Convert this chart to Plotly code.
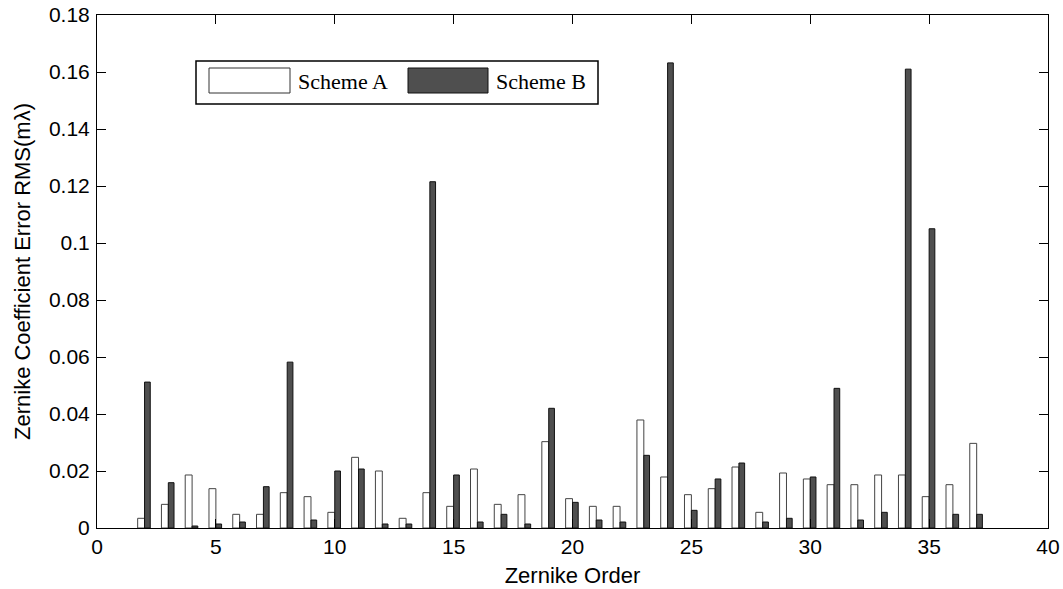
import plotly.graph_objects as go

orders = list(range(2, 38))
scheme_a = [0.0034, 0.0083, 0.0186, 0.0138, 0.0048, 0.0048, 0.0124, 0.0110, 0.0055, 0.0248,
            0.0200, 0.0034, 0.0124, 0.0076, 0.0207, 0.0083, 0.0117, 0.0303, 0.0103, 0.0076,
            0.0076, 0.0379, 0.0179, 0.0117, 0.0138, 0.0214, 0.0055, 0.0193, 0.0172, 0.0152,
            0.0152, 0.0186, 0.0186, 0.0110, 0.0152, 0.0297]
scheme_b = [0.0512, 0.0159, 0.0007, 0.0014, 0.0021, 0.0145, 0.0582, 0.0028, 0.0200, 0.0207,
            0.0014, 0.0014, 0.1215, 0.0186, 0.0021, 0.0048, 0.0014, 0.0420, 0.0090, 0.0028,
            0.0021, 0.0255, 0.1632, 0.0062, 0.0172, 0.0228, 0.0021, 0.0034, 0.0179, 0.0490,
            0.0028, 0.0055, 0.1610, 0.1050, 0.0048, 0.0048]
names = ["Scheme A", "Scheme B"]
x_ticks = list(range(0, 41, 5))
y_ticks = [0, 0.02, 0.04, 0.06, 0.08, 0.1, 0.12, 0.14, 0.16, 0.18]
y_tick_text = ["0", "0.02", "0.04", "0.06", "0.08", "0.1", "0.12", "0.14", "0.16", "0.18"]

# plot box at x 97..1048, y 15..528 in the 1063x589 window
W, H = 1063, 589
L, R, T, B = 97, 15, 15, 61
pw, ph = W - L - R, H - T - B

def px(xp):
    return (xp - L) / pw

def py(yp):
    return (H - B - yp) / ph

fig = go.Figure()
fig.add_trace(go.Bar(x=orders, y=scheme_a, name=names[0], offset=-0.29, width=0.29,
                     marker=dict(color="white", line=dict(color="#444444", width=1)),
                     showlegend=False))
fig.add_trace(go.Bar(x=orders, y=scheme_b, name=names[1], offset=0.0, width=0.24,
                     marker=dict(color="#4f4f4f", line=dict(color="#111111", width=1)),
                     showlegend=False))

sans = "Liberation Sans, Arial, sans-serif"
axis_font = dict(family=sans, size=21, color="black")
fig.update_layout(
    width=W, height=H,
    margin=dict(l=L, r=R, t=T, b=B),
    paper_bgcolor="white", plot_bgcolor="white",
    barmode="overlay",
    xaxis=dict(range=[0, 40], tickvals=x_ticks, ticks="inside", ticklen=9, tickcolor="black",
               showline=True, linecolor="black", linewidth=1, mirror="ticks", showgrid=False,
               zeroline=False, tickfont=axis_font, automargin=False, ticklabeloverflow="allow",
               title=dict(text="Zernike Order", font=dict(family=sans, size=22, color="black"), standoff=10)),
    yaxis=dict(range=[0, 0.18], tickvals=y_ticks, ticktext=y_tick_text, ticks="inside", ticklen=9,
               tickcolor="black", showline=True, linecolor="black", linewidth=1, mirror="ticks",
               showgrid=False, zeroline=False, tickfont=axis_font, automargin=False,
               ticklabelstandoff=2, ticklabeloverflow="allow",
               title=dict(text="Zernike Coefficient Error RMS(mλ)", font=dict(family=sans, size=22, color="black"), standoff=12)),
)

# legend drawn manually (wide MATLAB-style swatches)
shapes = [
    dict(type="rect", xref="paper", yref="paper", x0=px(196), x1=px(598), y0=py(104), y1=py(61),
         line=dict(color="black", width=1.5), fillcolor="white", layer="above"),
    dict(type="rect", xref="paper", yref="paper", x0=px(209), x1=px(290), y0=py(93), y1=py(68),
         line=dict(color="#333333", width=1), fillcolor="white", layer="above"),
    dict(type="rect", xref="paper", yref="paper", x0=px(408), x1=px(488), y0=py(93), y1=py(68),
         line=dict(color="#111111", width=1), fillcolor="#4f4f4f", layer="above"),
]
fig.update_layout(shapes=shapes)
leg_font = dict(family="Liberation Serif, Times New Roman, serif", size=22, color="black")
fig.add_annotation(xref="paper", yref="paper", x=px(298), y=py(81), text=names[0], showarrow=False,
                   xanchor="left", yanchor="middle", font=leg_font, xshift=-2)
fig.add_annotation(xref="paper", yref="paper", x=px(496), y=py(81), text=names[1], showarrow=False,
                   xanchor="left", yanchor="middle", font=leg_font, xshift=-2)

# remove the browser's default 8px body margin so the figure fills the window exactly
fig.write_html("out.html",
               config={"displayModeBar": False},
               post_script="document.body.style.margin='0';document.body.style.overflow='hidden';")
